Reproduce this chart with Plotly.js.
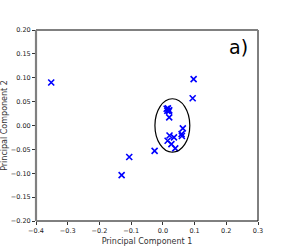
<!DOCTYPE html>
<html><head><meta charset="utf-8">
<script src="https://cdn.plot.ly/plotly-3.0.1.min.js"></script>
<style>body{margin:0;background:#fff}#c{width:287px;height:249px}</style>
</head><body><div id="c"></div>
<script>
const pc1 = [-0.352, 0.097, 0.094, -0.106, -0.130, -0.026, 0.012, 0.016, 0.020, 0.014, 0.019, 0.020, 0.063, 0.059, 0.060, 0.021, 0.035, 0.015, 0.027, 0.039];
const pc2 = [0.090, 0.097, 0.057, -0.066, -0.104, -0.053, 0.035, 0.036, 0.032, 0.031, 0.030, 0.017, -0.006, -0.018, -0.022, -0.021, -0.025, -0.032, -0.039, -0.048];
const ellipseCenter = [0.030, 0.000];
const ellipseRadius = [0.055, 0.056];
const xTicks = [-0.4, -0.3, -0.2, -0.1, 0.0, 0.1, 0.2, 0.3];
const yTicks = [-0.20, -0.15, -0.10, -0.05, 0.00, 0.05, 0.10, 0.15, 0.20];
const panelLabel = 'a)';

const tickFont = {family: 'DejaVu Sans', size: 6.5, color: '#222'};
const data = [{
  x: pc1, y: pc2, type: 'scatter', mode: 'markers',
  marker: {symbol: 'x-thin', size: 6, line: {color: '#0000ff', width: 1.6}, color: '#0000ff'}
}];
const layout = {
  width: 287, height: 249,
  margin: {l: 36, r: 29, t: 30, b: 28},
  paper_bgcolor: '#fff', plot_bgcolor: '#fff',
  showlegend: false,
  xaxis: {range: [-0.4, 0.3], tickvals: xTicks, tickformat: '.1f', showgrid: false, zeroline: false,
    ticks: 'outside', ticklen: 3, tickwidth: 0.8, tickcolor: '#000', tickfont: tickFont,
    title: {text: 'Principal Component 1', font: {family: 'DejaVu Sans', size: 8, color: '#333'}, standoff: 4}},
  yaxis: {range: [-0.20, 0.20], tickvals: yTicks, tickformat: '.2f', showgrid: false, zeroline: false,
    ticks: 'outside', ticklen: 3, tickwidth: 0.8, tickcolor: '#000', tickfont: tickFont,
    title: {text: 'Principal Component 2', font: {family: 'DejaVu Sans', size: 8, color: '#333'}, standoff: 4}},
  shapes: [
    {type: 'circle', xref: 'x', yref: 'y',
     x0: ellipseCenter[0] - ellipseRadius[0], x1: ellipseCenter[0] + ellipseRadius[0],
     y0: ellipseCenter[1] - ellipseRadius[1], y1: ellipseCenter[1] + ellipseRadius[1],
     line: {color: '#000', width: 1.2}},
    {type: 'line', xref: 'paper', yref: 'paper', x0: 0, x1: 1, y0: 0, y1: 0, line: {color: '#000', width: 1}},
    {type: 'line', xref: 'paper', yref: 'paper', x0: 1, x1: 1, y0: 0, y1: 1, line: {color: '#000', width: 1}},
    {type: 'line', xref: 'paper', yref: 'paper', x0: 0, x1: 1, y0: 1, y1: 1, line: {color: '#808080', width: 2.2}},
    {type: 'line', xref: 'paper', yref: 'paper', x0: 0, x1: 0, y0: 0, y1: 1, line: {color: '#808080', width: 2.2}}
  ],
  annotations: [{text: panelLabel, xref: 'paper', yref: 'paper', x: 0.91, y: 0.91,
    xanchor: 'center', yanchor: 'middle', showarrow: false,
    font: {family: 'DejaVu Sans', size: 19, color: '#000'}}]
};
Plotly.newPlot('c', data, layout, {staticPlot: true, displayModeBar: false});
</script>
</body></html>
